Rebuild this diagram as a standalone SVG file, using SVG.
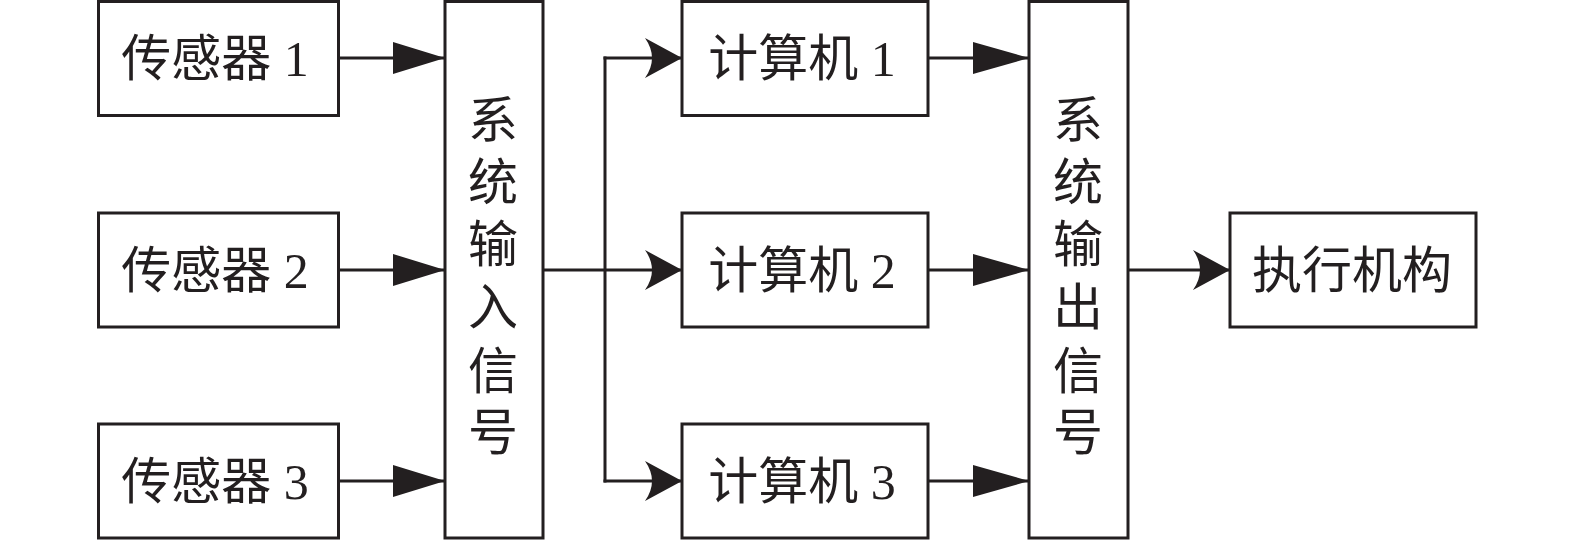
<svg xmlns="http://www.w3.org/2000/svg" width="1575" height="541" viewBox="0 0 1575 541">
<style>
.box{fill:#fff;stroke:#231f20;stroke-width:3}
.ln{fill:none;stroke:#231f20;stroke-width:3}
.t{font-family:"Liberation Serif","Noto Sans CJK SC",serif;font-size:50px;fill:#231f20;text-anchor:middle}
</style>
<defs>
<marker id="a1" markerUnits="userSpaceOnUse" markerWidth="54" markerHeight="34" refX="52" refY="16" orient="auto" overflow="visible">
<path d="M0,0 L52,16 L0,32 Z" fill="#231f20"/>
</marker>
<marker id="a2" markerUnits="userSpaceOnUse" markerWidth="58" markerHeight="34" refX="56" refY="16" orient="auto" overflow="visible">
<path d="M0,0 L56,16 L0,32 Z" fill="#231f20"/>
</marker>
<marker id="a3" markerUnits="userSpaceOnUse" markerWidth="40" markerHeight="42" refX="37" refY="20" orient="auto" overflow="visible">
<path d="M0,0 L37,20 L0,40 Q14,20 0,0 Z" fill="#231f20"/>
</marker>
</defs>
<g id="connectors">
<line class="ln" x1="339" y1="58" x2="445" y2="58" marker-end="url(#a1)"/>
<line class="ln" x1="339" y1="270" x2="445" y2="270" marker-end="url(#a1)"/>
<line class="ln" x1="339" y1="481" x2="445" y2="481" marker-end="url(#a1)"/>
<line class="ln" x1="543" y1="270" x2="682" y2="270" marker-end="url(#a3)"/>
<line class="ln" x1="605" y1="56.5" x2="605" y2="482.5"/>
<line class="ln" x1="603.5" y1="58" x2="682" y2="58" marker-end="url(#a3)"/>
<line class="ln" x1="603.5" y1="481" x2="682" y2="481" marker-end="url(#a3)"/>
<line class="ln" x1="928" y1="58" x2="1029" y2="58" marker-end="url(#a2)"/>
<line class="ln" x1="928" y1="270" x2="1029" y2="270" marker-end="url(#a2)"/>
<line class="ln" x1="928" y1="481" x2="1029" y2="481" marker-end="url(#a2)"/>
<line class="ln" x1="1128" y1="270" x2="1230" y2="270" marker-end="url(#a3)"/>
</g>
<g id="sensor1"><rect class="box" x="98.5" y="1.5" width="240" height="114"/><text class="t" x="215" y="76">传感器 1</text></g>
<g id="sensor2"><rect class="box" x="98.5" y="213" width="240" height="114"/><text class="t" x="215" y="288">传感器 2</text></g>
<g id="sensor3"><rect class="box" x="98.5" y="424" width="240" height="114"/><text class="t" x="215" y="499">传感器 3</text></g>
<g id="input">
<rect class="box" x="445" y="1.5" width="98" height="536.5"/>
<text class="t" x="493" y="138">系</text>
<text class="t" x="493" y="200">统</text>
<text class="t" x="493" y="262">输</text>
<text class="t" x="493" y="325">入</text>
<text class="t" x="493" y="389">信</text>
<text class="t" x="493" y="450">号</text>
</g>
<g id="computer1"><rect class="box" x="682" y="1.5" width="246" height="114"/><text class="t" x="802" y="76">计算机 1</text></g>
<g id="computer2"><rect class="box" x="682" y="213" width="246" height="114"/><text class="t" x="802" y="288">计算机 2</text></g>
<g id="computer3"><rect class="box" x="682" y="424" width="246" height="114"/><text class="t" x="802" y="499">计算机 3</text></g>
<g id="output">
<rect class="box" x="1029" y="1.5" width="99" height="536.5"/>
<text class="t" x="1078" y="138">系</text>
<text class="t" x="1078" y="200">统</text>
<text class="t" x="1078" y="262">输</text>
<text class="t" x="1078" y="325">出</text>
<text class="t" x="1078" y="389">信</text>
<text class="t" x="1078" y="450">号</text>
</g>
<g id="actuator"><rect class="box" x="1230" y="213" width="246" height="114"/><text class="t" x="1352" y="288">执行机构</text></g>
</svg>
